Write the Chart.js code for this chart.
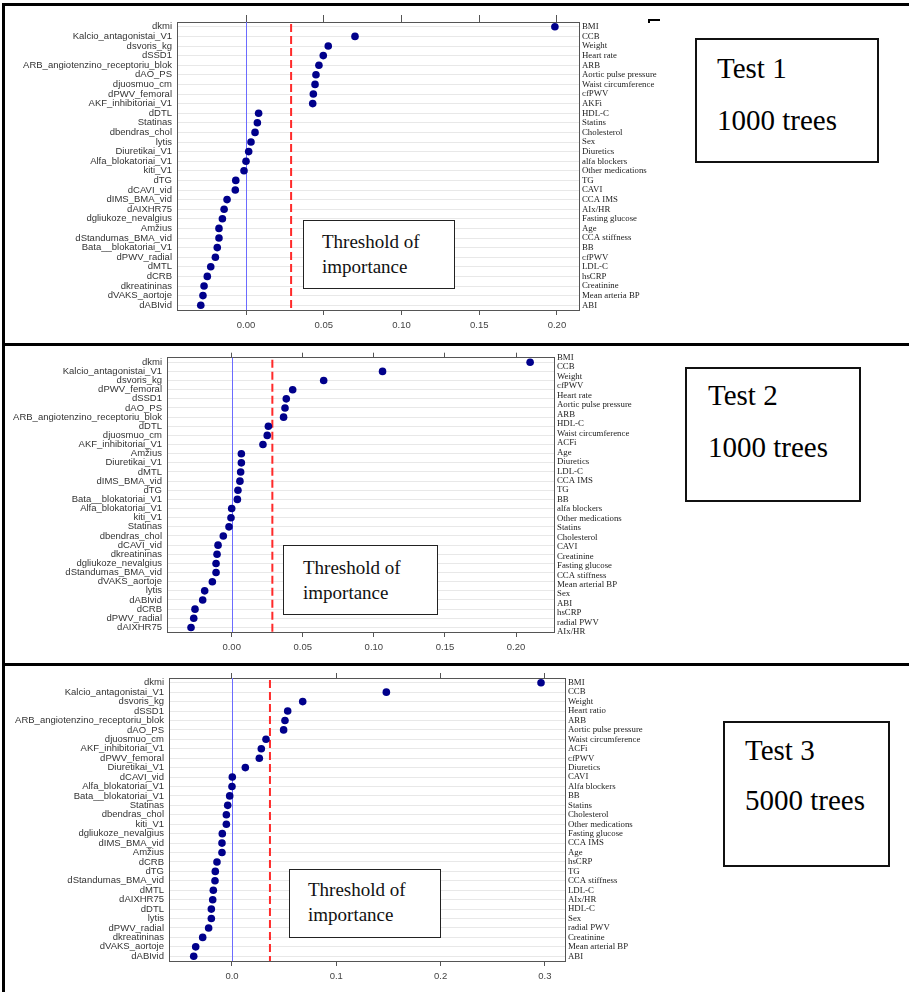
<!DOCTYPE html>
<html>
<head>
<meta charset="utf-8">
<script src="https://cdn.jsdelivr.net/npm/chart.js@4.4.0/dist/chart.umd.min.js"></script>
<style>
body { margin: 0; background: #fff; }
#page { position: relative; width: 909px; height: 992px; overflow: hidden; background: #fff; }
.rule { position: absolute; background: #000; }
.cv { position: absolute; }
.thr { position: absolute; box-sizing: border-box; border: 1.5px solid #222; background: #fff;
  font-family: "Liberation Serif", "Times New Roman", serif; font-size: 19px; line-height: 25px; color: #111; }
.test { position: absolute; box-sizing: border-box; border: 2px solid #111; background: #fff;
  font-family: "Liberation Serif", "Times New Roman", serif; font-size: 29px; color: #000; }
</style>
</head>
<body>
<div id="page">
  <canvas id="chart1" class="cv" width="673" height="336" style="left:6px;top:6px"></canvas>
  <canvas id="chart2" class="cv" width="648" height="315" style="left:6px;top:347px"></canvas>
  <canvas id="chart3" class="cv" width="659" height="325" style="left:6px;top:667px"></canvas>

  <div class="thr" style="left:303px;top:220px;width:152px;height:69px;padding:8px 0 0 18px">Threshold of<br>importance</div>
  <div class="thr" style="left:283px;top:545px;width:155px;height:70px;padding:9px 0 0 19px">Threshold of<br>importance</div>
  <div class="thr" style="left:289px;top:869px;width:152px;height:69px;padding:7px 0 0 18px">Threshold of<br>importance</div>

  <div class="test" style="left:695px;top:38px;width:184px;height:125px;padding:2px 0 0 20px;line-height:52px">Test 1<br>1000 trees</div>
  <div class="test" style="left:685px;top:367px;width:176px;height:135px;padding:0 0 0 21px;line-height:52px">Test 2<br>1000 trees</div>
  <div class="test" style="left:723px;top:721px;width:167px;height:146px;padding:2px 0 0 20px;line-height:50px">Test 3<br>5000 trees</div>

  <div class="rule" style="left:648px;top:19px;width:12px;height:2px"></div>
  <div class="rule" style="left:648px;top:19px;width:2px;height:4px"></div>

  <div class="rule" style="left:2px;top:3px;width:907px;height:3px"></div>
  <div class="rule" style="left:2px;top:343px;width:907px;height:3px"></div>
  <div class="rule" style="left:2px;top:663px;width:907px;height:3px"></div>
  <div class="rule" style="left:2px;top:3px;width:3px;height:989px"></div>
</div>

<script>
'use strict';

// ---- Test 1 ----
let labels1 = ["dkmi", "Kalcio_antagonistai_V1", "dsvoris_kg", "dSSD1", "ARB_angiotenzino_receptoriu_blok",
  "dAO_PS", "djuosmuo_cm", "dPWV_femoral", "AKF_inhibitoriai_V1", "dDTL", "Statinas", "dbendras_chol",
  "lytis", "Diuretikai_V1", "Alfa_blokatoriai_V1", "kiti_V1", "dTG", "dCAVI_vid", "dIMS_BMA_vid",
  "dAIXHR75", "dgliukoze_nevalgius", "Amžius", "dStandumas_BMA_vid", "Bata__blokatoriai_V1",
  "dPWV_radial", "dMTL", "dCRB", "dkreatininas", "dVAKS_aortoje", "dABIvid"];
let rightLabels1 = ["BMI", "CCB", "Weight", "Heart rate", "ARB", "Aortic pulse pressure", "Waist circumference",
  "cfPWV", "AKFi", "HDL-C", "Statins", "Cholesterol", "Sex", "Diuretics", "alfa blockers", "Other medications",
  "TG", "CAVI", "CCA IMS", "AIx/HR", "Fasting glucose", "Age", "CCA stiffness", "BB", "cfPWV", "LDL-C",
  "hsCRP", "Creatinine", "Mean arteria BP", "ABI"];
let values1 = [0.1987, 0.0701, 0.0529, 0.0497, 0.0469, 0.0450, 0.0444, 0.0433, 0.0429, 0.0081,
  0.0073, 0.0058, 0.0032, 0.0017, 0.0000, -0.0013, -0.0066, -0.0069, -0.0122, -0.0141,
  -0.0152, -0.0174, -0.0174, -0.0185, -0.0197, -0.0227, -0.0249, -0.0270, -0.0277, -0.0291];
let threshold1 = 0.029;
let xTicks1 = [0, 0.05, 0.10, 0.15, 0.20];
let xTickLabels1 = ["0.00", "0.05", "0.10", "0.15", "0.20"];

// ---- Test 2 ----
let labels2 = ["dkmi", "Kalcio_antagonistai_V1", "dsvoris_kg", "dPWV_femoral", "dSSD1", "dAO_PS",
  "ARB_angiotenzino_receptoriu_blok", "dDTL", "djuosmuo_cm", "AKF_inhibitoriai_V1", "Amžius",
  "Diuretikai_V1", "dMTL", "dIMS_BMA_vid", "dTG", "Bata__blokatoriai_V1", "Alfa_blokatoriai_V1",
  "kiti_V1", "Statinas", "dbendras_chol", "dCAVI_vid", "dkreatininas", "dgliukoze_nevalgius",
  "dStandumas_BMA_vid", "dVAKS_aortoje", "lytis", "dABIvid", "dCRB", "dPWV_radial", "dAIXHR75"];
let rightLabels2 = ["BMI", "CCB", "Weight", "cfPWV", "Heart rate", "Aortic pulse pressure", "ARB", "HDL-C",
  "Waist circumference", "ACFi", "Age", "Diuretics", "LDL-C", "CCA IMS", "TG", "BB", "alfa blockers",
  "Other medications", "Statins", "Cholesterol", "CAVI", "Creatinine", "Fasting glucose", "CCA stiffness",
  "Mean arterial BP", "Sex", "ABI", "hsCRP", "radial PWV", "AIx/HR"];
let values2 = [0.2099, 0.1061, 0.0647, 0.0429, 0.0384, 0.0375, 0.0365, 0.0258, 0.0250, 0.0220,
  0.0068, 0.0068, 0.0063, 0.0058, 0.0044, 0.0040, 0.0000, -0.0005, -0.0019, -0.0059,
  -0.0096, -0.0103, -0.0110, -0.0110, -0.0136, -0.0190, -0.0204, -0.0258, -0.0267, -0.0286];
let threshold2 = 0.0286;
let xTicks2 = [0, 0.05, 0.10, 0.15, 0.20];
let xTickLabels2 = ["0.00", "0.05", "0.10", "0.15", "0.20"];

// ---- Test 3 ----
let labels3 = ["dkmi", "Kalcio_antagonistai_V1", "dsvoris_kg", "dSSD1", "ARB_angiotenzino_receptoriu_blok",
  "dAO_PS", "djuosmuo_cm", "AKF_inhibitoriai_V1", "dPWV_femoral", "Diuretikai_V1", "dCAVI_vid",
  "Alfa_blokatoriai_V1", "Bata__blokatoriai_V1", "Statinas", "dbendras_chol", "kiti_V1",
  "dgliukoze_nevalgius", "dIMS_BMA_vid", "Amžius", "dCRB", "dTG", "dStandumas_BMA_vid", "dMTL",
  "dAIXHR75", "dDTL", "lytis", "dPWV_radial", "dkreatininas", "dVAKS_aortoje", "dABIvid"];
let rightLabels3 = ["BMI", "CCB", "Weight", "Heart ratio", "ARB", "Aortic pulse pressure", "Waist circumference",
  "ACFi", "cfPWV", "Diuretics", "CAVI", "Alfa blockers", "BB", "Statins", "Cholesterol", "Other medications",
  "Fasting glucose", "CCA IMS", "Age", "hsCRP", "TG", "CCA stiffness", "LDL-C", "AIx/HR", "HDL-C", "Sex",
  "radial PWV", "Creatinine", "Mean arterial BP", "ABI"];
let values3 = [0.2963, 0.1480, 0.0678, 0.0534, 0.0508, 0.0495, 0.0326, 0.0281, 0.0262, 0.0128,
  0.0003, 0.0000, -0.0022, -0.0041, -0.0054, -0.0054, -0.0093, -0.0096, -0.0096, -0.0144,
  -0.0160, -0.0163, -0.0179, -0.0185, -0.0198, -0.0198, -0.0224, -0.0281, -0.0348, -0.0367];
let threshold3 = 0.0364;
let xTicks3 = [0, 0.1, 0.2, 0.3];
let xTickLabels3 = ["0.0", "0.1", "0.2", "0.3"];


// blue zero line + red dashed threshold, under the dots
let refLines = {
    id: 'refLines',
    beforeDatasetsDraw(chart, args, opts) {
        let ctx = chart.ctx;
        let area = chart.chartArea;
        let xScale = chart.scales.x;
        ctx.save();
        let x0 = Math.round(xScale.getPixelForValue(0)) + 0.5;
        ctx.strokeStyle = '#6b6bff';
        ctx.lineWidth = 1;
        ctx.beginPath();
        ctx.moveTo(x0, area.top);
        ctx.lineTo(x0, area.bottom);
        ctx.stroke();

        let xt = xScale.getPixelForValue(opts.threshold);
        ctx.strokeStyle = '#ff2a2a';
        ctx.lineWidth = 2;
        ctx.setLineDash([8, 4]);
        ctx.beginPath();
        ctx.moveTo(xt, area.top + 2);
        ctx.lineTo(xt, area.bottom);
        ctx.stroke();
        ctx.restore();
    }
};

function fixedTicks(values) {
    return function (scale) {
        scale.ticks = values.map(v => ({ value: v }));
    };
}

function makePanel(id, leftLabels, rightLabels, values, threshold, xTicks, xTickLabels, geo) {
    let ctx = document.getElementById(id).getContext('2d');
    let axisColor = '#555';
    return new Chart(ctx, {
        type: 'line',
        data: {
            labels: leftLabels,
            datasets: [{
                data: values,
                showLine: false,
                pointRadius: 3.8,
                pointHoverRadius: 3.8,
                pointBorderWidth: 0,
                pointBackgroundColor: '#00008b',
                pointBorderColor: '#00008b'
            }]
        },
        options: {
            indexAxis: 'y',
            responsive: false,
            animation: false,
            devicePixelRatio: 1,
            layout: { padding: 0 },
            plugins: {
                legend: { display: false },
                tooltip: { enabled: false },
                refLines: { threshold: threshold }
            },
            scales: {
                x: {
                    type: 'linear',
                    position: 'bottom',
                    min: geo.xMin,
                    max: geo.xMax,
                    afterBuildTicks: fixedTicks(xTicks),
                    afterFit: function (scale) { scale.height = geo.bottomH; },
                    grid: { drawOnChartArea: false, drawTicks: true, tickLength: 5, tickColor: axisColor },
                    border: { display: true, color: axisColor, width: 1 },
                    ticks: {
                        padding: 5,
                        maxRotation: 0,
                        color: '#444',
                        font: { family: 'Liberation Sans, Arial, sans-serif', size: 9.5 },
                        callback: function (value, index) { return xTickLabels[index]; }
                    }
                },
                x2: {
                    type: 'linear',
                    position: 'top',
                    min: geo.xMin,
                    max: geo.xMax,
                    afterBuildTicks: fixedTicks(xTicks),
                    afterFit: function (scale) { scale.height = geo.topH; },
                    grid: { drawOnChartArea: false, drawTicks: true, tickLength: geo.topTick, tickColor: axisColor },
                    border: { display: true, color: axisColor, width: 1 },
                    ticks: { display: false }
                },
                y: {
                    type: 'category',
                    position: 'left',
                    offset: true,
                    afterFit: function (scale) { scale.width = geo.leftW; },
                    grid: { offset: false, drawTicks: false, color: '#e8e8e8', lineWidth: 1 },
                    border: { display: true, color: axisColor, width: 1 },
                    ticks: {
                        autoSkip: false,
                        padding: 5,
                        color: '#333',
                        font: { family: 'Liberation Sans, Arial, sans-serif', size: 9.5 }
                    }
                },
                y2: {
                    type: 'category',
                    position: 'right',
                    labels: rightLabels,
                    offset: geo.rightOffset,
                    afterFit: function (scale) { scale.width = geo.rightW; },
                    grid: { drawOnChartArea: false, drawTicks: false },
                    border: { display: true, color: axisColor, width: 1 },
                    ticks: {
                        autoSkip: false,
                        padding: 3,
                        color: '#222',
                        font: { family: 'Liberation Serif, Times New Roman, serif', size: 8.8 }
                    }
                }
            }
        },
        plugins: [refLines]
    });
}

makePanel('chart1', labels1, rightLabels1, values1, threshold1, xTicks1, xTickLabels1,
    { xMin: -0.0444, xMax: 0.2142, leftW: 171, rightW: 100, topH: 16, topTick: 7, bottomH: 32, rightOffset: true });
makePanel('chart2', labels2, rightLabels2, values2, threshold2, xTicks2, xTickLabels2,
    { xMin: -0.0455, xMax: 0.2267, leftW: 161, rightW: 100, topH: 8, topTick: 5, bottomH: 30, rightOffset: false });
makePanel('chart3', labels3, rightLabels3, values3, threshold3, xTicks3, xTickLabels3,
    { xMin: -0.0604, xMax: 0.3193, leftW: 163, rightW: 100, topH: 11, topTick: 5, bottomH: 31, rightOffset: true });
</script>
</body>
</html>
